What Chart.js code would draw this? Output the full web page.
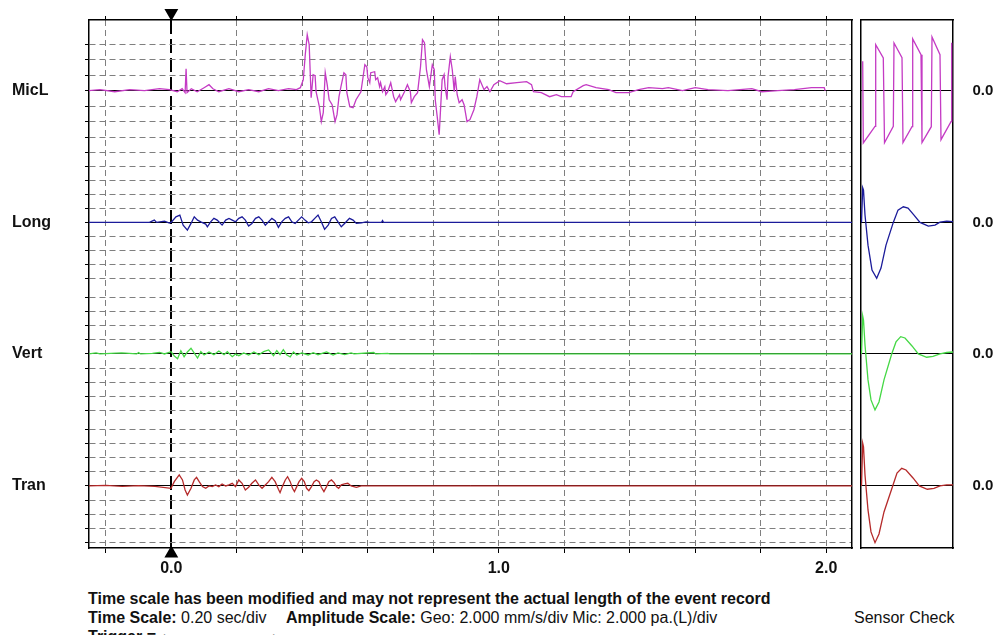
<!DOCTYPE html>
<html>
<head>
<meta charset="utf-8">
<title>Event waveform</title>
<script src="https://cdn.jsdelivr.net/npm/chart.js@4.4.1/dist/chart.umd.min.js"></script>
<style>
  html, body { margin: 0; padding: 0; background: #fff; overflow: hidden; }
  #page { position: relative; width: 997px; height: 635px; font-family: "Liberation Sans", Arial, sans-serif; color: #111; }
  canvas { position: absolute; top: 0; }
  #wave { left: 0; width: 860px; height: 580px; }
  #check { left: 859px; width: 138px; height: 580px; }
  .txt { position: absolute; font-size: 16px; line-height: 19px; white-space: nowrap; }
  .arrow { position: absolute; font-size: 12px; line-height: 19px; }
</style>
</head>
<body>
<div id="page">
  <canvas id="wave" width="860" height="580"></canvas>
  <canvas id="check" width="138" height="580"></canvas>
  <div class="txt" style="left:88px; top:589px;"><b>Time scale has been modified and may not represent the actual length of the event record</b></div>
  <div class="txt" style="left:88px; top:608px;"><b>Time Scale:</b> 0.20 sec/div</div>
  <div class="txt" style="left:286px; top:608px;"><b>Amplitude Scale:</b> Geo: 2.000 mm/s/div Mic: 2.000 pa.(L)/div</div>
  <div class="txt" style="left:854px; top:608px;">Sensor Check</div>
  <div class="txt" style="left:88px; top:627px;"><b>Trigger =</b></div>
  <div class="arrow" style="left:164px; top:629px;">&#9654;</div>
  <div class="arrow" style="left:265px; top:629px;">&#9664;</div>
</div>
<script>
// channels, top to bottom
const channelNames = ['MicL', 'Long', 'Vert', 'Tran'];
const channelOffsets = [31.18, 22.2, 13.23, 4.23];   // zero line of each channel, in divisions
const geoScale = 2.0;   // mm/s per div
const micScale = 2.0;   // pa per div
const triggerTime = 0;

const timeTicks = [-0.2, 0, 0.2, 0.4, 0.6, 0.8, 1.0, 1.2, 1.4, 1.6, 1.8, 2.0];
const yGridLines = [
  34.36, 33.30, 32.24, 30.12, 29.06, 28.00, 26.94,
  26.04, 25.08, 24.12, 23.16, 21.24, 20.28, 19.32, 18.36,
  17.07, 16.11, 15.15, 14.19, 12.27, 11.31, 10.35, 9.39,
  8.07, 7.11, 6.15, 5.19, 3.27, 2.31, 1.35, 0.39
];

// MicL (pa)
const micTime = [
  -0.252, -0.218, -0.173, -0.127, -0.082, -0.036, -0.006, 0.018, 0.033, 0.042,
  0.045, 0.048, 0.061, 0.079, 0.1, 0.115, 0.127, 0.145, 0.176, 0.206,
  0.236, 0.267, 0.297, 0.327, 0.358, 0.382, 0.394, 0.403, 0.409, 0.415,
  0.421, 0.427, 0.433, 0.439, 0.442, 0.452, 0.458, 0.464, 0.470, 0.476,
  0.482, 0.491, 0.5, 0.506, 0.512, 0.518, 0.527, 0.533, 0.536, 0.545,
  0.555, 0.564, 0.579, 0.591, 0.597, 0.6, 0.606, 0.609, 0.621, 0.624,
  0.630, 0.636, 0.639, 0.645, 0.652, 0.655, 0.661, 0.670, 0.679, 0.685,
  0.697, 0.7, 0.712, 0.721, 0.730, 0.733, 0.742, 0.752, 0.761, 0.767,
  0.773, 0.779, 0.788, 0.797, 0.803, 0.806, 0.812, 0.818, 0.821, 0.827,
  0.833, 0.836, 0.842, 0.845, 0.852, 0.858, 0.864, 0.867, 0.873, 0.879,
  0.888, 0.894, 0.903, 0.912, 0.924, 0.933, 0.942, 0.955, 0.964, 0.973,
  0.985, 1.003, 1.024, 1.055, 1.085, 1.1, 1.106, 1.130, 1.155, 1.176,
  1.191, 1.221, 1.227, 1.258, 1.267, 1.297, 1.336, 1.358, 1.397, 1.427,
  1.458, 1.5, 1.518, 1.561, 1.6, 1.639, 1.7, 1.773, 1.803, 1.852,
  1.903, 1.955, 1.994, 1.997
];
const micPa = [
  0, 0.14, -0.14, 0.14, 0, 0.27, 0.14, -0.14, 0.27, -0.27,
  3.0, -0.27, 0.27, -0.14, 0.41, 0.82, 0.27, -0.14, 0.27, -0.14,
  0.14, -0.14, 0.27, 0, 0.27, 0.14, 0.41, 1.5, 4.91, 7.63,
  6.27, -0.95, 2.18, 2.04, -0.14, -2.18, -4.22, -3.0, 2.45, 0.82,
  -1.23, -1.91, -4.22, -3.27, -0.82, 0.55, 2.45, 2.18, -0.27, -2.18,
  -2.32, -1.23, -0.14, 3.54, 3.27, 1.77, 1.09, 2.45, 2.59, 1.5,
  1.77, 0.55, 1.09, -0.14, 0.55, -0.55, -0.14, 1.09, -0.82, -1.5,
  -0.55, -1.23, -0.14, 0.82, -0.14, -1.64, -0.82, -0.27, 3.27, 6.95,
  6.54, 2.86, 0.55, 3.54, 2.86, -1.23, -3.54, -6.0, -3.54, 1.5,
  2.18, 0.55, -1.23, 1.91, 4.63, 2.86, -0.14, 1.91, -0.55, -1.64,
  -1.23, -1.91, -4.22, -3.95, -2.59, -0.82, 1.5, 0.14, 0.55, -0.14,
  0.82, 1.36, 0.95, 1.09, 1.23, 0.82, -0.14, -0.27, -0.82, -0.55,
  -0.82, -0.82, -0.14, 0.68, 0.82, 0.41, 0.14, -0.27, -0.27, 0.14,
  0.41, 0.27, 0.41, 0, 0.41, 0.14, 0, 0.27, -0.14, 0,
  0.14, 0.41, 0.41, 0
];

// Long (mm/s)
const longTime = [
  -0.252, -0.067, -0.052, -0.045, -0.021, -0.006, 0, 0.014, 0.026, 0.036,
  0.049, 0.06, 0.07, 0.08, 0.09, 0.105, 0.11, 0.12, 0.13, 0.14,
  0.155, 0.166, 0.176, 0.186, 0.196, 0.206, 0.216, 0.226, 0.236, 0.246,
  0.257, 0.267, 0.277, 0.287, 0.297, 0.307, 0.317, 0.327, 0.337, 0.348,
  0.358, 0.368, 0.378, 0.388, 0.398, 0.408, 0.418, 0.428, 0.438, 0.448,
  0.458, 0.468, 0.479, 0.489, 0.499, 0.509, 0.519, 0.529, 0.544, 0.555,
  0.565, 0.58, 0.595, 0.606, 0.642, 0.645, 0.648, 2.08
];
const longVel = [
  0, 0, 0.31, 0, 0.18, -0.1, 0.04, 0.76, 1.0, -0.37,
  -1.05, -0.14, 0.76, 0.31, 0.08, -0.23, -0.6, 0.08, 0.55, 0.31,
  -0.37, 0.31, 0.55, 0.31, 0.08, 0.55, 0.76, 0.31, -0.5, -0.14,
  0.55, 0.76, 0.31, -0.37, 0.08, 0.55, 0.22, -0.68, 0.08, 0.55,
  0.76, 0.08, -0.14, 0.31, 0.76, 0.31, -0.05, 0.08, 0.55, 1.0,
  0.08, -0.95, -0.37, 0.55, 0.76, 0.08, -0.6, -0.14, 0.55, 0.31,
  -0.14, -0.05, 0.08, 0, 0, 0.25, 0, 0
];

// Vert (mm/s)
const vertTime = [
  -0.252, -0.23, -0.218, -0.152, -0.106, -0.1, -0.094, -0.058, -0.036, -0.021,
  -0.001, 0.009, 0.019, 0.029, 0.039, 0.049, 0.06, 0.07, 0.08, 0.09,
  0.1, 0.115, 0.13, 0.145, 0.161, 0.171, 0.186, 0.196, 0.206, 0.221,
  0.236, 0.252, 0.267, 0.282, 0.297, 0.312, 0.322, 0.332, 0.342, 0.352,
  0.363, 0.373, 0.383, 0.398, 0.418, 0.433, 0.448, 0.474, 0.494, 0.509,
  0.529, 0.549, 0.558, 0.618, 0.624, 0.661, 0.667, 2.08
];
const vertVel = [
  0, 0.14, 0, 0.14, 0, 0.18, 0, 0.07, 0.2, 0,
  0.31, -0.27, -0.64, 0.45, -0.37, 0.27, 0.78, 0.1, -0.55, 0.31,
  -0.14, 0.27, -0.1, 0.41, -0.1, 0.31, -0.37, 0, -0.23, 0.14,
  -0.14, 0.27, -0.1, 0.31, 0.55, -0.23, 0.45, -0.1, 0.59, -0.1,
  -0.41, 0.27, -0.14, 0.14, -0.14, 0.18, -0.1, 0.27, -0.14, 0.14,
  -0.1, 0.14, 0, 0.2, 0, 0.07, 0, 0
];

// Tran (mm/s)
const tranTime = [
  -0.252, -0.2, -0.15, -0.1, -0.05, -0.001, 0.009, 0.024, 0.034, 0.042,
  0.049, 0.06, 0.07, 0.077, 0.085, 0.095, 0.105, 0.115, 0.125, 0.135,
  0.145, 0.155, 0.166, 0.176, 0.186, 0.196, 0.206, 0.216, 0.226, 0.236,
  0.246, 0.257, 0.267, 0.277, 0.287, 0.297, 0.307, 0.317, 0.327, 0.332,
  0.339, 0.348, 0.355, 0.363, 0.37, 0.376, 0.383, 0.39, 0.398, 0.406,
  0.413, 0.42, 0.428, 0.436, 0.443, 0.451, 0.458, 0.466, 0.474, 0.481,
  0.489, 0.497, 0.504, 0.511, 0.519, 0.529, 0.539, 0.549, 0.565, 0.58,
  2.08
];
const tranVel = [
  0, 0.09, -0.05, 0.05, -0.05, -0.32, 0.59, 1.5, 0.82, -0.54,
  -1.23, -0.32, 0.82, 1.18, 0.59, -0.09, -0.32, 0, -0.09, 0.14,
  -0.09, 0.27, 0, 0.14, 0.36, -0.09, 0.82, 0.36, -0.54, -0.18,
  0.36, 0.82, 0.14, -0.32, 0.14, 0.59, 1.18, 0.59, -0.45, -0.91,
  -0.09, 0.82, 1.27, 0.59, -0.32, -0.77, -0.09, 0.59, 1.04, 0.59,
  -0.32, -0.64, -0.09, 0.59, 0.82, 0.59, -0.18, -0.77, -0.09, 0.59,
  0.82, 0.45, -0.09, -0.32, 0.14, 0.27, 0.36, 0, -0.18, 0,
  0
];

// sensor check (time in ms)
const micChkTime = [1.7, 2.3, 14, 14.7, 22.3, 23.5, 32.3, 33, 41, 42, 51, 51.7, 60, 61, 70.3, 71, 79, 80, 90, 90.7];
const micChkPa = [4.0, -7.13, -4.87, 6.27, 4.46, -7.09, -4.87, 6.5, 4.5, -7.09, -4.91, 7.05, 4.91, -7.09, -4.91, 7.32, 4.91, -6.68, -4.23, 6.54];
const longChkTime = [0.5, 1.7, 2.5, 4, 7, 11, 15.7, 20, 25, 32.3, 37, 42.3, 47, 53, 59, 67.3, 74, 79, 85.7, 92];
const longChkVel = [0, 4.72, 4.4, 1.0, -3.1, -6.5, -7.63, -6.23, -3.1, 0, 1.68, 2.13, 1.95, 1.0, 0, -0.5, -0.37, 0.04, 0.18, 0.11];
const vertChkTime = [0.5, 1.7, 2.5, 4, 7, 10, 14, 18, 23, 30.7, 35, 39.7, 44, 51, 57.3, 65.7, 72, 79, 85.7, 92];
const vertChkVel = [0, 5.18, 4.63, 1.23, -3.54, -6.27, -7.63, -6.54, -3.54, 0, 1.64, 2.36, 2.18, 1.09, 0, -0.45, -0.34, 0, 0.2, 0.27];
const tranChkTime = [0.5, 1.7, 2.5, 4, 7, 10, 14, 18, 23, 31.7, 36, 40.7, 45, 52, 58.3, 66.3, 73, 79, 85.7, 92];
const tranChkVel = [0, 5.82, 5.32, 1.5, -3.27, -6.27, -7.73, -6.54, -3.54, 0, 1.77, 2.41, 2.18, 1.09, 0, -0.45, -0.34, 0, 0.14, 0.14];

const colors = ['#c43bc4', '#1b1b9a', '#45d845', '#b52a2a'];
const gridGray = '#7f7f7f';
const yMin = 0, yMax = 36;
const xMin = -0.2515, xMax = 2.0788;

Chart.defaults.font.family = '"Liberation Sans", Arial, sans-serif';
Chart.defaults.color = '#111';

const trace = (times, values, ch, scale) =>
  times.map((t, i) => ({ x: t, y: channelOffsets[ch] + values[i] / scale }));

const lineSet = (data, ch) => ({
  data: data, borderColor: colors[ch], borderWidth: 1.3, pointRadius: 0,
  fill: false, tension: 0, xAxisID: 'x', yAxisID: 'y'
});

const isZero = v => channelOffsets.some(o => Math.abs(o - v) < 1e-6);
const isTrigger = c => c.tick && Math.abs(c.tick.value - triggerTime) < 1e-9;
const isZeroCtx = c => c.tick && isZero(c.tick.value);
const yTickValues = yGridLines.concat(channelOffsets).sort((a, b) => a - b);

const triangle = (y, rot) => ({
  data: [{ x: triggerTime, y: y }], showLine: false, clip: false,
  pointStyle: 'triangle', rotation: rot, pointRadius: 5, pointBorderWidth: 3,
  pointBackgroundColor: '#000', pointBorderColor: '#000', xAxisID: 'x', yAxisID: 'y'
});

const frame = { color: '#000', width: 1.5 };

// main record
new Chart(document.getElementById('wave'), {
  type: 'line',
  data: {
    datasets: [
      triangle(yMax + 0.48, 180),
      triangle(yMin - 0.38, 0),
      lineSet(trace(micTime, micPa, 0, micScale), 0),
      lineSet(trace(longTime, longVel, 1, geoScale), 1),
      lineSet(trace(vertTime, vertVel, 2, geoScale), 2),
      lineSet(trace(tranTime, tranVel, 3, geoScale), 3)
    ]
  },
  options: {
    responsive: false, animation: false, devicePixelRatio: 1, events: [],
    layout: { padding: { left: 12, top: 0, right: 2, bottom: 0 } },
    plugins: { legend: { display: false }, tooltip: { enabled: false } },
    scales: {
      x: {
        type: 'linear', position: 'bottom', min: xMin, max: xMax,
        afterBuildTicks: s => { s.ticks = timeTicks.map(v => ({ value: v })); },
        afterFit: s => { s.height = 32; },
        ticks: {
          autoSkip: false, maxRotation: 0, padding: 6, color: '#111',
          font: { size: 16, weight: 'bold' },
          callback: v => Math.abs(v - Math.round(v)) < 1e-6 ? v.toFixed(1) : ''
        },
        grid: {
          color: c => isTrigger(c) ? '#000' : gridGray,
          lineWidth: c => isTrigger(c) ? 2 : 1,
          tickLength: 5, tickColor: '#000', tickWidth: 1
        },
        border: { color: '#000', width: 1.5, dash: c => isTrigger(c) ? [14, 5] : [6, 4] }
      },
      xTop: {
        type: 'linear', position: 'top', min: xMin, max: xMax,
        afterBuildTicks: s => { s.ticks = timeTicks.map(v => ({ value: v })); },
        afterFit: s => { s.height = 20; },
        ticks: { display: false },
        grid: { drawOnChartArea: false, tickLength: 4, tickColor: '#000' },
        border: frame
      },
      y: {
        type: 'linear', position: 'left', min: yMin, max: yMax,
        afterBuildTicks: s => { s.ticks = yTickValues.map(v => ({ value: v })); },
        afterFit: s => { s.width = 77; },
        ticks: {
          autoSkip: false, crossAlign: 'far', color: '#111',
          font: { size: 16, weight: 'bold' },
          callback: v => {
            const i = channelOffsets.findIndex(o => Math.abs(o - v) < 1e-6);
            return i >= 0 ? channelNames[i] : '';
          }
        },
        grid: {
          color: c => isZeroCtx(c) ? '#000' : gridGray,
          lineWidth: 1, tickLength: 4, tickColor: '#000'
        },
        border: { color: '#000', width: 1.5, dash: c => isZeroCtx(c) ? [] : [6, 4] }
      },
      yRight: {
        type: 'linear', position: 'right', min: yMin, max: yMax,
        afterFit: s => { s.width = 0; },
        ticks: { display: false },
        grid: { display: false, drawTicks: false },
        border: frame
      }
    }
  }
});

// sensor check panel
new Chart(document.getElementById('check'), {
  type: 'line',
  data: {
    datasets: [
      lineSet(trace(micChkTime, micChkPa, 0, micScale), 0),
      lineSet(trace(longChkTime, longChkVel, 1, geoScale), 1),
      lineSet(trace(vertChkTime, vertChkVel, 2, geoScale), 2),
      lineSet(trace(tranChkTime, tranChkVel, 3, geoScale), 3)
    ]
  },
  options: {
    responsive: false, animation: false, devicePixelRatio: 1, events: [],
    layout: { padding: { left: 2, top: 0, right: 3.7, bottom: 0 } },
    plugins: { legend: { display: false }, tooltip: { enabled: false } },
    scales: {
      x: {
        type: 'linear', position: 'bottom', min: 0, max: 92,
        afterFit: s => { s.height = 32; },
        ticks: { display: false }, grid: { display: false }, border: frame
      },
      xTop: {
        type: 'linear', position: 'top', min: 0, max: 92,
        afterFit: s => { s.height = 20; },
        ticks: { display: false }, grid: { display: false }, border: frame
      },
      yL: {
        type: 'linear', position: 'left', min: yMin, max: yMax,
        afterFit: s => { s.width = 0; },
        ticks: { display: false }, grid: { display: false }, border: frame
      },
      y: {
        type: 'linear', position: 'right', min: yMin, max: yMax,
        afterBuildTicks: s => { s.ticks = channelOffsets.map(v => ({ value: v })); },
        afterFit: s => { s.width = 40.3; },
        ticks: {
          autoSkip: false, crossAlign: 'far', padding: 0, color: '#111',
          font: { size: 15, weight: 'bold' }, callback: () => '0.0'
        },
        grid: { color: '#000', lineWidth: 1, drawTicks: false },
        border: frame
      }
    }
  }
});
</script>
</body>
</html>
